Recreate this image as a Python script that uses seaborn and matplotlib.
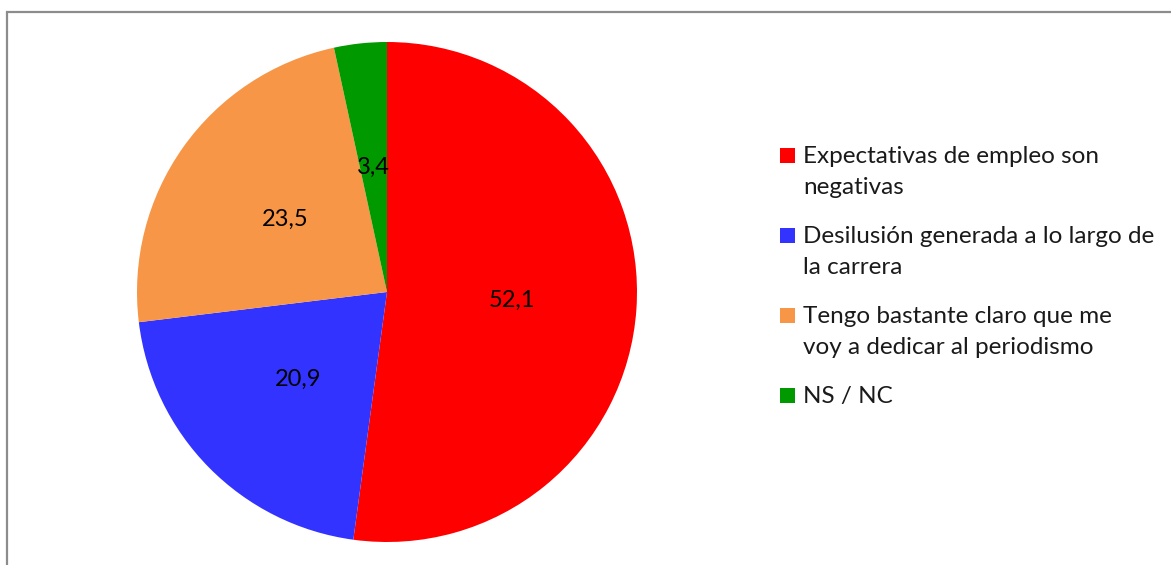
import matplotlib
matplotlib.use("Agg")
import matplotlib.pyplot as plt
import seaborn as sns
from matplotlib.patches import Rectangle

sns.set_theme(style="white")
plt.rcParams['font.family'] = ['Lato', 'DejaVu Sans']

categories = [
    "Expectativas de empleo son\nnegativas",
    "Desilusión generada a lo largo de\nla carrera",
    "Tengo bastante claro que me\nvoy a dedicar al periodismo",
    "NS / NC",
]
values = [52.1, 20.9, 23.5, 3.4]
colors = ["#FF0000", "#3333FF", "#F79646", "#009900"]

W, H = 1171, 565
fig = plt.figure(figsize=(W / 100, H / 100), dpi=100)
fig.patch.set_facecolor("white")

cx, cy, r = 387, 292, 250
ax = fig.add_axes([(cx - r) / W, (H - cy - r) / H, 2 * r / W, 2 * r / H])

total = sum(values)
wedges, texts, autotexts = ax.pie(
    values,
    colors=colors,
    startangle=90,
    counterclock=False,
    radius=1,
    autopct=lambda p: f"{p * total / 100:.1f}".replace(".", ","),
    pctdistance=0.5,
    wedgeprops=dict(linewidth=0),
    textprops=dict(fontsize=17, color="black"),
)
ax.set_xlim(-1, 1)
ax.set_ylim(-1, 1)
ax.set_aspect("equal")
ax.axis("off")

# legend (drawn manually so the key square sits on the first text line)
fs = 17.5
sq = 15
key_x, text_x = 780, 803
base0, pitch, line_h = 163, 80, 31
for i, (lab, w) in enumerate(zip(categories, wedges)):
    b = base0 + pitch * i
    fig.add_artist(Rectangle((key_x / W, 1 - b / H), sq / W, sq / H,
                             transform=fig.transFigure,
                             facecolor=w.get_facecolor(), edgecolor="none"))
    for j, line in enumerate(lab.split("\n")):
        fig.text(text_x / W, 1 - (b + line_h * j) / H, line,
                 fontsize=fs, color="#1a1a1a", ha="left", va="baseline")

fig.add_artist(Rectangle((6.5 / W, -0.05), 1.1, (H - 12) / H + 0.05,
                         transform=fig.transFigure, fill=False,
                         edgecolor="#8c8c8c", linewidth=1.6))

fig.savefig("out.png", dpi=100, facecolor="white")
